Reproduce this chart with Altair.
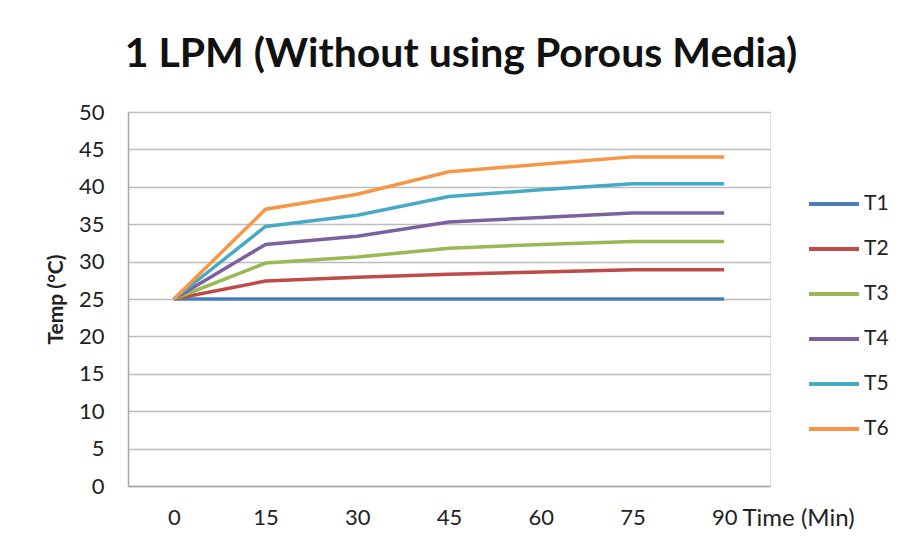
import altair as alt
import pandas as pd

times = ["0", "15", "30", "45", "60", "75", "90"]
series_names = ["T1", "T2", "T3", "T4", "T5", "T6"]
t1 = [25, 25, 25, 25, 25, 25, 25]
t2 = [25, 27.4, 27.9, 28.3, 28.6, 28.9, 28.9]
t3 = [25, 29.8, 30.6, 31.8, 32.3, 32.7, 32.7]
t4 = [25, 32.3, 33.4, 35.3, 35.9, 36.5, 36.5]
t5 = [25, 34.7, 36.2, 38.7, 39.6, 40.4, 40.4]
t6 = [25, 37.0, 39.0, 42.0, 43.0, 44.0, 44.0]
colors = ["#4A7EBB", "#BE4B48", "#98B954", "#7D60A0", "#46AAC5", "#F79646"]

rows = []
for name, vals in zip(series_names, [t1, t2, t3, t4, t5, t6]):
    for t, v in zip(times, vals):
        rows.append({"Time": t, "Temp": v, "Series": name})
df = pd.DataFrame(rows)

FONT = "Lato"

chart = alt.Chart(df).mark_line(strokeWidth=3.5).encode(
    x=alt.X("Time:O", sort=times,
            scale=alt.Scale(type="point", padding=0.5),
            axis=alt.Axis(title="Time (Min)", labelAngle=0, ticks=False,
                          labelPadding=21, labelFontSize=22, labelColor="#222",
                          labelFont=FONT, grid=False,
                          domainColor="#A6A6A6", domainWidth=1.5,
                          titleX=614, titleY=39, titleAlign="left",
                          titleBaseline="alphabetic", titleFontSize=24,
                          titleFontWeight="normal", titleFont=FONT,
                          titleColor="#222")),
    y=alt.Y("Temp:Q", scale=alt.Scale(domain=[0, 50]),
            axis=alt.Axis(title="Temp (°C)", values=list(range(0, 55, 5)),
                          ticks=False, labelPadding=24, labelFontSize=22,
                          labelColor="#222", labelFont=FONT,
                          gridColor="#BDBDBD", gridWidth=1.5,
                          domainColor="#A6A6A6", domainWidth=1.5,
                          titleX=-72, titleY=187, titleAngle=-90,
                          titleAlign="center", titleBaseline="middle",
                          titleFontSize=21, titleFontWeight="bold",
                          titleFont=FONT, titleColor="#222")),
    color=alt.Color("Series:N", sort=series_names,
                    scale=alt.Scale(domain=series_names, range=colors),
                    legend=alt.Legend(title=None, orient="none",
                                      legendX=694, legendY=80,
                                      symbolType="M-2.5,0H2.5",
                                      symbolSize=400, symbolStrokeWidth=4,
                                      labelOffset=18, rowPadding=23,
                                      labelFontSize=21, labelFont=FONT,
                                      labelColor="#222", padding=0)),
).properties(
    width=642,
    height=374,
    title=alt.TitleParams("1 LPM (Without using Porous Media)", fontSize=41,
                          font=FONT, fontWeight="bold", color="#111",
                          anchor="middle", dx=12, offset=25),
    autosize=alt.AutoSizeParams(type="none"),
    padding={"left": 120, "top": 104, "right": 123, "bottom": 52},
).configure_view(stroke=None).configure(background="white")

chart.save("out.html", embed_options={"renderer": "svg", "actions": False})
